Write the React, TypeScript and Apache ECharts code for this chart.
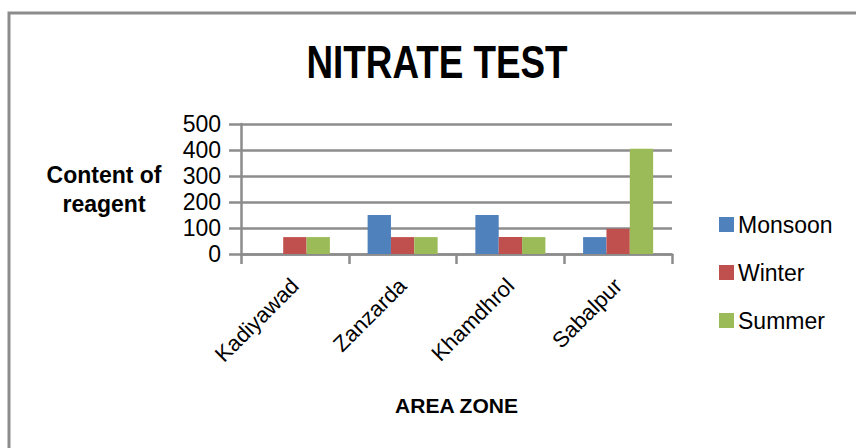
import React, { useEffect, useRef } from "react";
import * as echarts from "echarts";

const categories = ["Kadiyawad", "Zanzarda", "Khamdhrol", "Sabalpur"];
const monsoon = [0, 150, 150, 65];
const winter = [65, 65, 65, 97];
const summer = [65, 65, 65, 405];
const seriesNames = ["Monsoon", "Winter", "Summer"];
const colors = ["#4F81BD", "#C0504D", "#9BBB59"];

const FONT = "'Liberation Sans', Arial, sans-serif";
const GRAY = "#8c8c8c";

export default function App() {
  const ref = useRef<HTMLDivElement>(null);
  useEffect(() => {
    if (!ref.current) return;
    const chart = echarts.init(ref.current, undefined, { renderer: "svg" });
    const values = [monsoon, winter, summer];
    chart.setOption({
      animation: false,
      backgroundColor: "#ffffff",
      textStyle: { fontFamily: FONT },
      grid: { left: 241, right: 184, top: 124, bottom: 194, containLabel: false },
      graphic: [
        {
          type: "rect",
          shape: { x: 9, y: 13, width: 900, height: 500 },
          style: { fill: "none", stroke: GRAY, lineWidth: 3 },
          silent: true,
        },
        {
          type: "text",
          x: 437,
          y: 62,
          scaleX: 0.8,
          style: {
            text: "NITRATE TEST",
            font: `bold 46px ${FONT}`,
            fill: "#000",
            textAlign: "center",
            textVerticalAlign: "middle",
          },
        },
        {
          type: "text",
          x: 104,
          y: 189,
          style: {
            text: "Content of\nreagent",
            font: `bold 23px ${FONT}`,
            lineHeight: 29,
            fill: "#000",
            textAlign: "center",
            textVerticalAlign: "middle",
          },
        },
      ],
      legend: {
        orient: "vertical",
        left: 714,
        top: 208,
        itemWidth: 15,
        itemHeight: 15,
        itemGap: 25,
        icon: "rect",
        data: seriesNames,
        textStyle: { fontSize: 23, color: "#000", fontFamily: FONT, padding: [0, 0, 0, -1] },
      },
      xAxis: {
        type: "category",
        data: categories,
        name: "AREA ZONE",
        nameLocation: "middle",
        nameGap: 141,
        nameTextStyle: { fontWeight: "bold", fontSize: 21, color: "#000", fontFamily: FONT },
        axisLine: { lineStyle: { color: GRAY, width: 2.5 } },
        axisTick: { show: true, length: 10, lineStyle: { color: GRAY, width: 2.5 } },
        axisLabel: { rotate: 45, fontSize: 22, color: "#000", margin: 28, interval: 0 },
      },
      yAxis: {
        type: "value",
        min: 0,
        max: 500,
        interval: 100,
        axisLine: { show: true, lineStyle: { color: GRAY, width: 2.5 } },
        axisTick: { show: true, length: 12, lineStyle: { color: GRAY, width: 2.5 } },
        splitLine: { show: true, lineStyle: { color: GRAY, width: 2.5 } },
        axisLabel: { fontSize: 23, color: "#000", margin: 20 },
      },
      series: seriesNames.map((n, i) => ({
        name: n,
        type: "bar",
        data: values[i],
        barGap: "0%",
        barCategoryGap: "35%",
        itemStyle: { color: colors[i] },
      })),
    });
    return () => chart.dispose();
  }, []);
  return (
    <div
      ref={ref}
      style={{ position: "fixed", left: 0, top: 0, width: 856, height: 448 }}
    />
  );
}
